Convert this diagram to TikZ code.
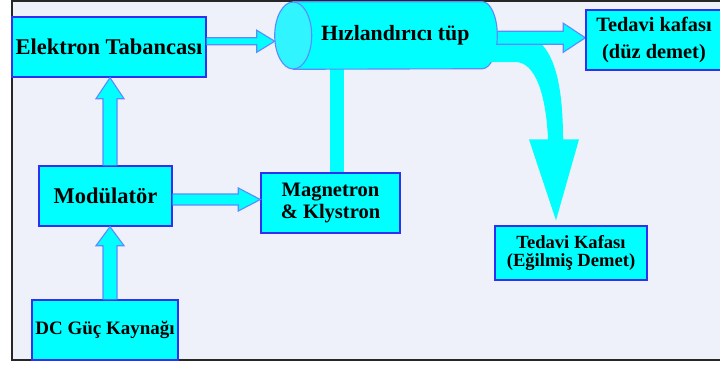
\documentclass[tikz,border=0pt]{standalone}
\usepackage{fontspec}
\setmainfont{Liberation Serif}
\usetikzlibrary{calc}
\definecolor{panel}{HTML}{EEF0FA}
\definecolor{boxfill}{HTML}{00FFFF}
\definecolor{boxline}{HTML}{3030F0}
\definecolor{arrline}{HTML}{5A8CFF}
\definecolor{tubeend}{HTML}{30F4FF}
\pgfdeclarelayer{pane}
\pgfdeclarelayer{bg}
\pgfsetlayers{pane,bg,main}
\newcommand{\px}{0.025cm}
% fat arrow, left to right: from, to, shaft half, head half, head length (px)
\newcommand{\harrow}[5]{%
  \draw[fatarrow] let \p1=(#1), \p2=(#2), \n1={(\y1+\y2)/2} in
    (\x1,\n1+#3*\px) -- (\x2-#5*\px,\n1+#3*\px) -- (\x2-#5*\px,\n1+#4*\px) -- (\x2,\n1)
    -- (\x2-#5*\px,\n1-#4*\px) -- (\x2-#5*\px,\n1-#3*\px) -- (\x1,\n1-#3*\px);}
% fat arrow, bottom to top: from, to, shaft half, head half, head length, x shift (px)
\newcommand{\varrow}[6]{%
  \draw[fatarrow] let \p1=(#1), \p2=(#2), \n1={\x2+#6*\px} in
    (\n1-#3*\px,\y1) -- (\n1-#3*\px,\y2-#5*\px) -- (\n1-#4*\px,\y2-#5*\px) -- (\n1,\y2)
    -- (\n1+#4*\px,\y2-#5*\px) -- (\n1+#3*\px,\y2-#5*\px) -- (\n1+#3*\px,\y1);}
\begin{document}
\begin{tikzpicture}[x=\px,y=-\px,
  box/.style={draw=boxline,fill=boxfill,line width=1pt,inner sep=0pt,align=center,font=\bfseries},
  fatarrow/.style={draw=arrline,fill=boxfill,line width=0.8pt,line join=miter},
  tubeline/.style={draw=arrline,line width=0.8pt},
  beam/.style={fill=boxfill}]
\useasboundingbox (0,0) rectangle (720,369);
\clip (0,0) rectangle (720,369);
\begin{pgfonlayer}{pane}
\draw[draw=black!85,fill=panel,line width=0.9pt] (12,1) rectangle (730,360);
\end{pgfonlayer}
% blocks
\node[box,minimum width=194*\px,minimum height=60*\px,font=\bfseries\fontsize{16}{18}\selectfont] (gun) at (109,47) {Elektron Tabancası};
\node[box,minimum width=133*\px,minimum height=60*\px,font=\bfseries\fontsize{16}{18}\selectfont] (mod) at (105.5,196) {Modülatör};
\node[box,minimum width=146*\px,minimum height=60*\px,font=\bfseries\fontsize{13.5}{15}\selectfont] (dc) at (105,330) {DC Güç Kaynağı};
\node[box,minimum width=139*\px,minimum height=60*\px,font=\bfseries\fontsize{14.6}{15.6}\selectfont] (mag) at (330.5,203) {Magnetron\\\& Klystron};
\node[box,minimum width=136*\px,minimum height=60*\px,font=\bfseries\fontsize{14.5}{19}\selectfont] (head1) at (654,40) {Tedavi kafası\\(düz demet)};
\node[box,minimum width=152*\px,minimum height=54*\px,font=\bfseries\fontsize{13.2}{13.5}\selectfont] (head2) at (571,253) {Tedavi Kafası\\(Eğilmiş Demet)};
% accelerator tube: body from the front end centre to the back end
\node[minimum width=203.5*\px,minimum height=67*\px,inner sep=0pt,
  font=\bfseries\fontsize{15.5}{17}\selectfont] (tube) at (395.25,35.5) {Hızlandırıcı tüp};
% connectors
\begin{pgfonlayer}{bg}
\fill[beam] let \p1=(mag.north), \p2=(tube.center) in (\x1-0.5*\px,\y2) rectangle (\x1+13.5*\px,\y1);
\harrow{[xshift=-4*\px]tube.east}{head1.west}{6.5}{14.5}{22}
\draw[tubeline,fill=boxfill] (tube.north west) -- ($(tube.north east)+(-15,0)$)
  arc[start angle=-90,end angle=90,x radius=15,y radius=33.5] -- (tube.south west) -- cycle;
\draw[tubeline,fill=tubeend] (tube.west) ellipse[x radius=18.5,y radius=33.5];
\end{pgfonlayer}
\harrow{gun.east}{[xshift=-18.5*\px]tube.west}{3.5}{11}{18}
\harrow{mod.east}{mag.west}{5.5}{11.5}{22}
\varrow{mod.north}{gun.south}{7}{14}{21}{1}
\varrow{dc.north}{mod.south}{7}{14}{19}{4.5}
\fill[beam] ($(tube.east)+(-17,9.5)$) -- ($(tube.east)+(45,9.5)$)
  .. controls ($(tube.east)+(61,26.5)$) and ($(head2.north)+(-8,-126)$) .. ($(head2.north)+(-8,-86)$)
  -- ($(head2.north)+(8,-86)$) -- ($(head2.north)+(-15,-5)$) -- ($(head2.north)+(-42,-86)$)
  -- ($(head2.north)+(-23,-86)$)
  .. controls ($(head2.north)+(-25,-131)$) and ($(tube.east)+(38,26.5)$) .. ($(tube.east)+(18,26.5)$)
  -- ($(tube.east)+(-17,26.5)$) -- cycle;
\end{tikzpicture}
\end{document}
